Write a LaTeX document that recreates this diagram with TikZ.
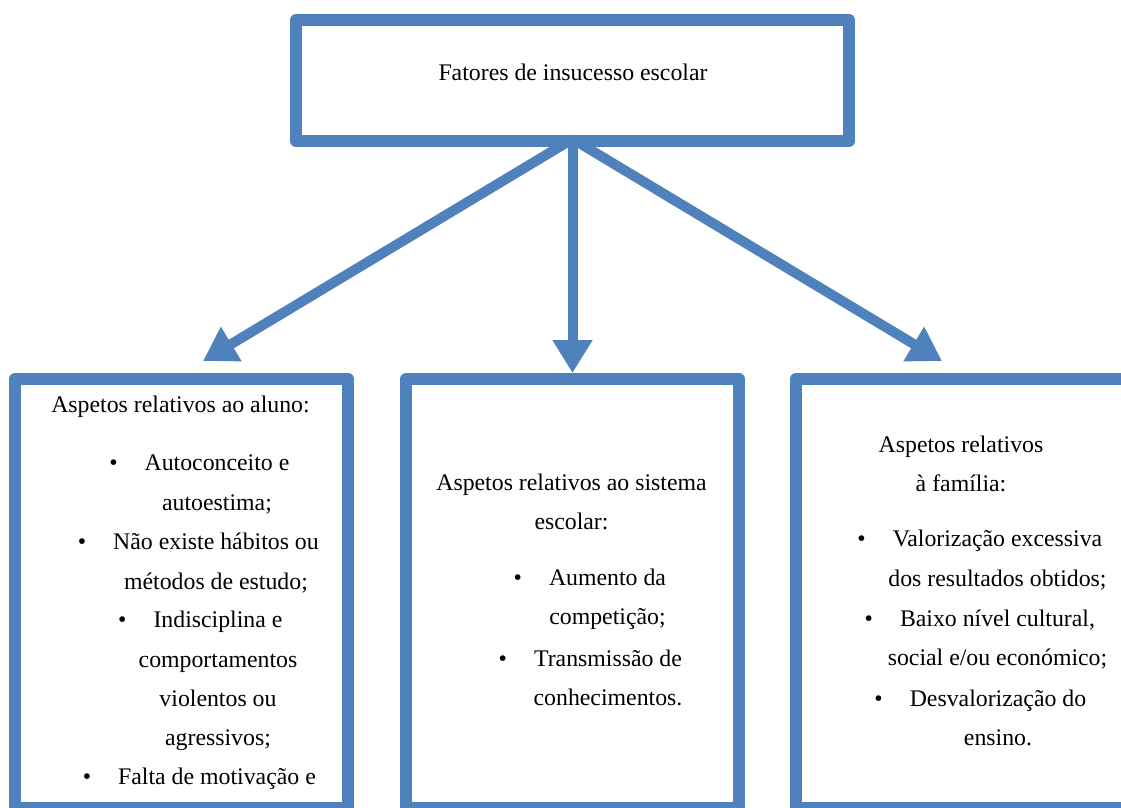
\documentclass[tikz,border=0pt]{standalone}
\usepackage{fontspec}
\setmainfont{Liberation Serif}
\usepackage{tikz}
\usetikzlibrary{arrows.meta}
\definecolor{boxblue}{HTML}{4F81BD}
\newcommand{\bul}{\llap{\textbullet\hspace{27pt}}}

\begin{document}
\begin{tikzpicture}[x=1pt,y=-1pt,
  frame/.style={draw=boxblue,line width=12pt,line join=round,fill=white,inner sep=0pt},
  link/.style={draw=boxblue,line width=10pt,-{Triangle[length=33pt,width=38pt]}},
  txt/.style={align=center,inner sep=0pt,font=\fontsize{23.8}{39.2}\selectfont}]
\useasboundingbox (0,0) rectangle (1121,807);
\clip (0,0) rectangle (1121,807);
\fill[white] (0,0) rectangle (1121,807);
\node[frame,minimum width=553pt,minimum height=121pt] (top) at (572.5,80.5) {};
\node[frame,minimum width=333pt,minimum height=429pt] (aluno) at (181.5,593.5) {};
\node[frame,minimum width=333pt,minimum height=429pt] (sistema) at (572.5,593.5) {};
\node[frame,minimum width=334pt,minimum height=429pt] (familia) at (963,593.5) {};
\coordinate (root) at (572.5,139);
\coordinate (tipaluno) at (203,361);
\coordinate (tipfamilia) at (942,361);
\draw[link] (root) -- (tipaluno);
\draw[link] (root) -- (sistema.north);
\draw[link] (root) -- (tipfamilia);
\node[txt] (titulo) at (573,72) {Fatores de insucesso escolar};
\node[txt] (alunoh) at (180.5,407) {Aspetos relativos ao aluno:};
\node[txt] (aluno1) at (217,484.5) {\bul Autoconceito e\\autoestima;};
\node[txt] (aluno2) at (216,563) {\bul Não existe hábitos ou\\métodos de estudo;};
\node[txt] (aluno3) at (218,681) {\bul Indisciplina e\\comportamentos\\violentos ou\\agressivos;};
\node[txt] (aluno4) at (217,779) {\bul Falta de motivação e};
\node[txt] (sistemah) at (571.5,502) {Aspetos relativos ao sistema\\escolar:};
\node[txt] (sistema1) at (607.5,599.5) {\bul Aumento da\\competição;};
\node[txt] (sistema2) at (608,678) {\bul Transmissão de\\conhecimentos.};
\node[txt] (familiah) at (961,464) {Aspetos relativos\\à família:};
\node[txt] (familia1) at (997.5,560) {\bul Valorização excessiva\\dos resultados obtidos;};
\node[txt] (familia2) at (997.5,639.5) {\bul Baixo nível cultural,\\social e/ou económico;};
\node[txt] (familia3) at (998,718) {\bul Desvalorização do\\ensino.};
\end{tikzpicture}
\end{document}
